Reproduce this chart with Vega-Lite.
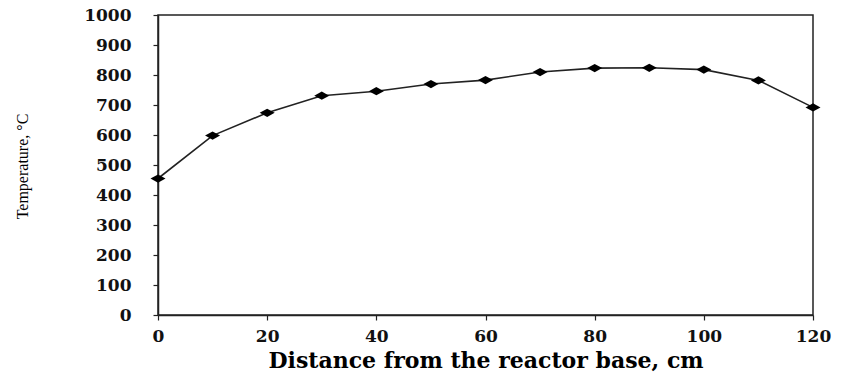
{
  "$schema": "https://vega.github.io/schema/vega-lite/v6.json",
  "autosize": "none",
  "width": 655,
  "height": 300,
  "padding": {"left": 158, "top": 15, "right": 28, "bottom": 58},
  "background": "white",
  "config": {
    "view": {"stroke": "#222", "strokeWidth": 1.5},
    "axis": {"grid": false, "domainColor": "#222", "domainWidth": 1.5, "tickColor": "#222", "tickWidth": 1.2, "tickSize": 5,
      "labelFont": "DejaVu Serif", "labelFontWeight": "bold", "labelFontSize": 17, "labelColor": "#111", "labelFlush": false,
      "titleColor": "#000", "format": "d"}
  },
  "data": {
    "values": [
      {"distance": 0, "temperature": 455},
      {"distance": 10, "temperature": 598},
      {"distance": 20, "temperature": 674},
      {"distance": 30, "temperature": 731},
      {"distance": 40, "temperature": 746},
      {"distance": 50, "temperature": 770},
      {"distance": 60, "temperature": 783},
      {"distance": 70, "temperature": 810},
      {"distance": 80, "temperature": 823},
      {"distance": 90, "temperature": 824},
      {"distance": 100, "temperature": 818},
      {"distance": 110, "temperature": 782},
      {"distance": 120, "temperature": 692}
    ]
  },
  "encoding": {
    "x": {"field": "distance", "type": "quantitative",
      "scale": {"domain": [0, 120], "nice": false, "zero": true},
      "axis": {"values": [0, 20, 40, 60, 80, 100, 120], "labelPadding": 8, "format": "d", "labelFlush": false,
        "title": "Distance from the reactor base, cm", "titleFont": "DejaVu Serif", "titleFontWeight": "bold", "titleFontSize": 22, "titlePadding": 6}},
    "y": {"field": "temperature", "type": "quantitative",
      "scale": {"domain": [0, 1000], "nice": false},
      "axis": {"values": [0, 100, 200, 300, 400, 500, 600, 700, 800, 900, 1000], "labelPadding": 22, "format": "d", "labelFlush": false,
        "title": "Temperature, °C", "titleFont": "Liberation Serif", "titleFontWeight": "normal", "titleFontSize": 16,
        "titleX": -136, "titleY": 151, "titleAngle": -90, "titleAlign": "center", "titleBaseline": "middle"}}
  },
  "layer": [
    {"mark": {"type": "line", "color": "#222", "strokeWidth": 1.6}},
    {"mark": {"type": "point", "shape": "M-1,0L0,-0.55L1,0L0,0.55Z", "filled": true, "color": "#000", "opacity": 1, "size": 225}}
  ]
}
